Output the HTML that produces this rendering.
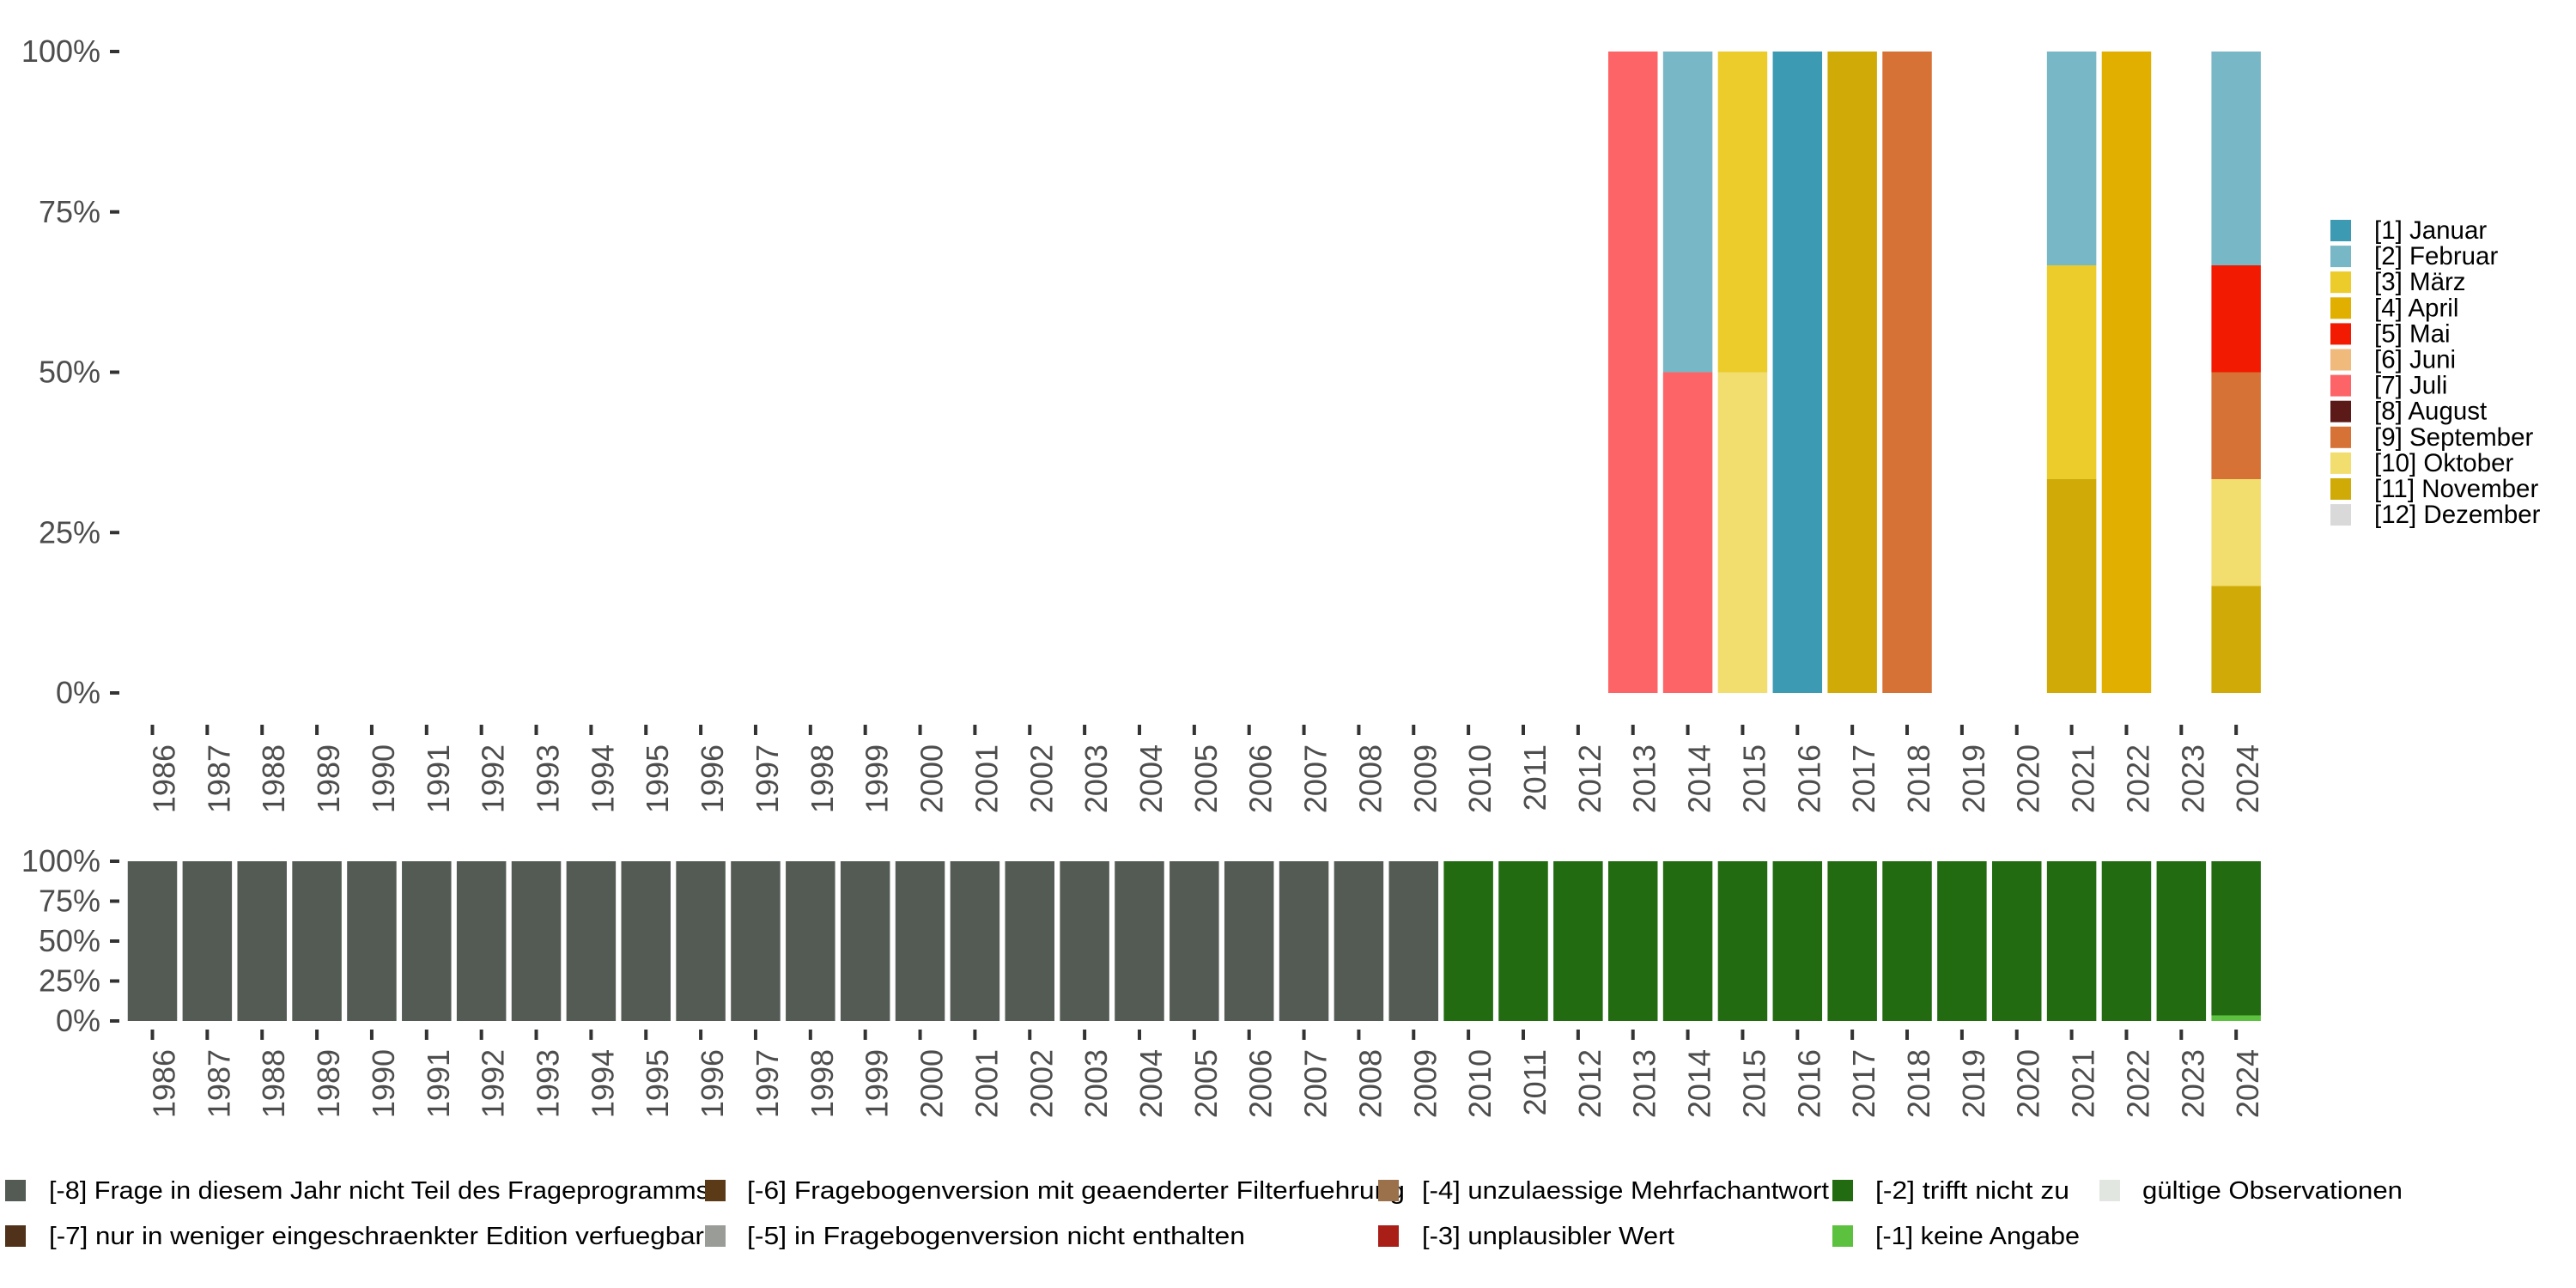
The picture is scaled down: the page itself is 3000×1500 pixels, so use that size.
<!DOCTYPE html>
<html><head><meta charset="utf-8"><style>
html,body{margin:0;padding:0;background:#fff;}
svg{display:block;font-family:"Liberation Sans",sans-serif;}
</style></head><body>
<svg id="chart" width="3000" height="1500" viewBox="0 0 3000 1500" xmlns="http://www.w3.org/2000/svg">
<g id="top"></g>
<g id="bottom"></g>
<g id="legR"></g>
<g id="legB"></g>
</svg>
<script>
const years = [];
for (let y = 1986; y <= 2024; y++) years.push(y);
const monthNames = ["[1] Januar","[2] Februar","[3] März","[4] April","[5] Mai","[6] Juni","[7] Juli","[8] August","[9] September","[10] Oktober","[11] November","[12] Dezember"];
const monthColors = ["#3C9AB2","#78B7C5","#EBCC2A","#E1AF00","#F21A00","#F0BA7D","#FD6467","#5B1A18","#D67236","#F2DE6E","#D0AB07","#D9D9D9"];
// month counts per year: [year, month index, count]
const monthYears = [2013,2014,2014,2015,2015,2016,2017,2018,2021,2021,2021,2022,2024,2024,2024,2024,2024];
const monthIdx   = [7,   2,   7,   3,   10,  1,   11,  9,   2,   3,   11,  4,   2,   5,   9,   10,  11];
const monthCount = [1,   1,   1,   1,   1,   1,   1,   1,   1,   1,   1,   1,   2,   1,   1,   1,   1];

const statusNames = ["[-8] Frage in diesem Jahr nicht Teil des Frageprogramms","[-7] nur in weniger eingeschraenkter Edition verfuegbar","[-6] Fragebogenversion mit geaenderter Filterfuehrung","[-5] in Fragebogenversion nicht enthalten","[-4] unzulaessige Mehrfachantwort","[-3] unplausibler Wert","[-2] trifft nicht zu","[-1] keine Angabe","gültige Observationen"];
const statusColors = ["#545B55","#4F3219","#5B3A18","#999C97","#9A714A","#A91E17","#226B11","#5BC13F","#E1E6E1"];
// share per year for status -8, -2, -1
const shareMinus8 = years.map(y => y <= 2009 ? 1 : 0);
const shareMinus2 = years.map(y => y <= 2009 ? 0 : (y === 2024 ? 0.965 : 1));
const shareMinus1 = years.map(y => y === 2024 ? 0.035 : 0);
const yTicks = [0,0.25,0.5,0.75,1];
const yTickLabels = ["0%","25%","50%","75%","100%"];

const NS = "http://www.w3.org/2000/svg";
function mk(tag, attrs, parent){const e=document.createElementNS(NS,tag);for(const k in attrs)e.setAttribute(k,attrs[k]);parent.appendChild(e);return e;}
const x0 = 177.5, pitch = 63.86, bw = 57.5;
const xS = y => x0 + (y - 1986) * pitch;

function axes(g, yTop, yBot, tickY0, name){
  const yS = v => yBot - v * (yBot - yTop);
  yTicks.forEach((t,i)=>{
    const tk = mk("rect",{x:128,y:yS(t)-2,width:11,height:4,fill:"#333"},g);
    
    
    const tx = mk("text",{x:117,y:yS(t)+12,"text-anchor":"end","font-size":36,fill:"#4d4d4d"},g);
    tx.textContent = yTickLabels[i];
    
    
  });
  years.forEach(y=>{
    const cx = xS(y);
    const tk = mk("rect",{x:cx-2,y:tickY0,width:4,height:12,fill:"#333"},g);
    
    
    const tx = mk("text",{x:0,y:0,"text-anchor":"end","font-size":36,fill:"#4d4d4d",transform:`translate(${cx+26},${tickY0+23}) rotate(-90)`},g);
    tx.textContent = y;
    
    
  });
  return yS;
}

// top panel
const gT = document.getElementById("top");
const ySt = axes(gT, 60, 807, 844, "month");
const totals = {};
monthYears.forEach((y,i)=>{totals[y]=(totals[y]||0)+monthCount[i];});
years.forEach(y=>{
  if(!totals[y]) return;
  let cum = 0;
  for(let m=11;m>=0;m--){
    let c = 0;
    monthYears.forEach((yy,i)=>{ if(yy===y && monthIdx[i]===m+1) c+=monthCount[i]; });
    if(!c) continue;
    const v0 = cum/totals[y], v1 = (cum+c)/totals[y];
    cum += c;
    const r = mk("rect",{x:xS(y)-bw/2,y:ySt(v1),width:bw,height:ySt(v0)-ySt(v1),fill:monthColors[m]},gT);
    
    
  }
});

// bottom panel
const gB = document.getElementById("bottom");
const ySb = axes(gB, 1003, 1189, 1199, "status");
const series = [[shareMinus1,7],[shareMinus2,6],[shareMinus8,0]];
years.forEach((y,j)=>{
  let cum = 0;
  series.forEach(([arr,ci])=>{
    const v = arr[j];
    if(!v) return;
    const r = mk("rect",{x:xS(y)-bw/2,y:ySb(cum+v),width:bw,height:ySb(cum)-ySb(cum+v),fill:statusColors[ci]},gB);
    
    
    cum += v;
  });
});

// right legend
const gR = document.getElementById("legR");
monthNames.forEach((n,i)=>{
  const yy = 256 + i*30.1;
  const s = mk("rect",{x:2714,y:yy,width:24,height:25,fill:monthColors[i]},gR);
  
  
  const t = mk("text",{x:2765,y:yy+22,"font-size":29.5,fill:"#000"},gR);
  t.textContent = n;
  
  
});

// bottom legend
const gL = document.getElementById("legB");
const colSw = [6,821,1605,2134,2445];
const colTx = [57,870,1656,2184,2495];
const legW = [769,763,766,580,474,294,226,238,303];
statusNames.forEach((n,i)=>{
  const col = Math.floor(i/2), row = i%2;
  const yy = 1374 + row*53;
  const s = mk("rect",{x:colSw[col],y:yy,width:24,height:25,fill:statusColors[i]},gL);
  
  
  const t = mk("text",{x:colTx[col],y:yy+22,"font-size":29,fill:"#000",textLength:legW[i],lengthAdjust:"spacingAndGlyphs"},gL);
  t.textContent = n;
  
  
});
</script>
</body></html>
